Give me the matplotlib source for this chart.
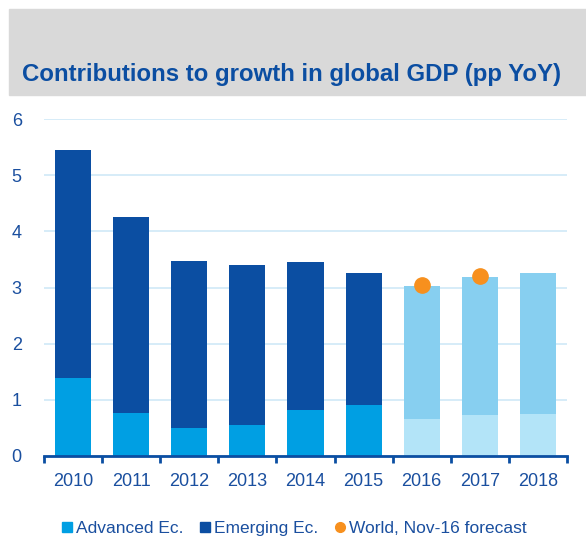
import numpy as np
import matplotlib
matplotlib.use('Agg')
import matplotlib.pyplot as plt
from matplotlib.lines import Line2D
from matplotlib.patches import Rectangle

plt.rcParams['font.family'] = ['Liberation Sans', 'DejaVu Sans']

years = ['2010', '2011', '2012', '2013', '2014', '2015', '2016', '2017', '2018']
advanced = [1.39, 0.77, 0.50, 0.55, 0.82, 0.91, 0.66, 0.73, 0.75]
emerging = [4.06, 3.48, 2.97, 2.85, 2.63, 2.35, 2.37, 2.46, 2.51]
forecast = [False, False, False, False, False, False, True, True, True]
world_years = ['2016', '2017']
world = [3.04, 3.20]

txt = '#1a4f9f'
c_adv, c_em = '#009fe3', '#0b4ea2'
c_adv_f, c_em_f = '#b3e4f8', '#87cff0'

fig = plt.figure(figsize=(5.86, 5.54), dpi=100)
fig.patches.append(Rectangle((9/586, 1-95/554), 1-9/586, 86/554,
                             transform=fig.transFigure, color='#d9d9d9', zorder=0))
fig.text(22/586, 1-74/554, 'Contributions to growth in global GDP (pp YoY)',
         color='#0b4ea2', fontsize=17.3, fontweight='bold', va='center', ha='left')

ax = fig.add_axes([44/586, 1-456/554, (567-44)/586, (456-119)/554])
x = np.arange(len(years))
adv_col = [c_adv_f if f else c_adv for f in forecast]
em_col = [c_em_f if f else c_em for f in forecast]
ax.bar(x, advanced, width=0.62, color=adv_col, zorder=2)
ax.bar(x, emerging, width=0.62, bottom=advanced, color=em_col, zorder=2)
wx = [years.index(y) for y in world_years]
ax.plot(wx, world, 'o', color='#f7901e', markersize=11, zorder=3, linestyle='none')

ax.set_xlim(-0.5, len(years) - 0.5)
ax.set_ylim(0, 6)
ax.set_yticks(range(0, 7))
ax.set_xticks(x)
ax.set_xticklabels(years)
ax.set_xticks(np.arange(-0.5, len(years)), minor=True)
ax.tick_params(axis='x', which='major', length=0, pad=12, labelsize=13, labelcolor=txt)
ax.tick_params(axis='x', which='minor', length=5, width=2, color=c_em, direction='out')
ax.tick_params(axis='y', length=0, pad=16, labelsize=13, labelcolor=txt)
ax.grid(axis='y', color='#cfe9f7', linewidth=1.2, zorder=0)
for s in ['top', 'right', 'left']:
    ax.spines[s].set_visible(False)
ax.spines['bottom'].set_color(c_em)
ax.spines['bottom'].set_linewidth(2)

handles = [
    Line2D([], [], marker='s', color=c_adv, linestyle='none', markersize=6.5),
    Line2D([], [], marker='s', color=c_em, linestyle='none', markersize=6.5),
    Line2D([], [], marker='o', color='#f7901e', linestyle='none', markersize=7),
]
fig.legend(handles, ['Advanced Ec.', 'Emerging Ec.', 'World, Nov-16 forecast'],
           loc='center', bbox_to_anchor=(0.5, 1-528/554), ncol=3, frameon=False,
           fontsize=12.5, labelcolor=txt, handletextpad=0.05, columnspacing=0.8,
           handlelength=0.9)

fig.savefig('out.png', dpi=100)
